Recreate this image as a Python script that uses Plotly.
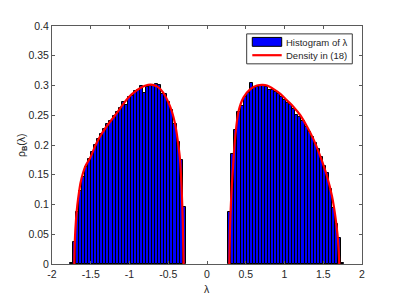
import plotly.graph_objects as go

# ---- data ----
bin_width = 0.03933
left_start = -1.77
right_start = 0.2752

hist_left = [0.002, 0.037, 0.087, 0.123, 0.147, 0.163, 0.176, 0.189, 0.200, 0.210,
             0.219, 0.227, 0.236, 0.241, 0.248, 0.255, 0.262, 0.273, 0.268, 0.280,
             0.283, 0.290, 0.293, 0.300, 0.288, 0.298, 0.300, 0.299, 0.302, 0.301,
             0.286, 0.285, 0.272, 0.258, 0.235, 0.205, 0.175, 0.095]

hist_right = [0.088, 0.185, 0.226, 0.255, 0.265, 0.281, 0.288, 0.304, 0.296, 0.297,
              0.299, 0.300, 0.297, 0.293, 0.292, 0.289, 0.285, 0.281, 0.276, 0.271,
              0.267, 0.260, 0.251, 0.247, 0.240, 0.231, 0.222, 0.213, 0.203, 0.194,
              0.180, 0.164, 0.153, 0.126, 0.094, 0.068, 0.043, 0.002]

dens_left_x = [-1.712, -1.705, -1.690, -1.674, -1.650, -1.631, -1.600, -1.566, -1.502, -1.437,
               -1.373, -1.308, -1.222, -1.150, -1.080, -0.973, -0.844, -0.760, -0.700, -0.640,
               -0.570, -0.499, -0.450, -0.413, -0.380, -0.348, -0.327, -0.312, -0.302]
dens_left_y = [0.0, 0.040, 0.075, 0.098, 0.122, 0.137, 0.153, 0.165, 0.180, 0.200,
               0.216, 0.229, 0.244, 0.256, 0.269, 0.285, 0.297, 0.301, 0.301, 0.298,
               0.289, 0.272, 0.255, 0.236, 0.210, 0.176, 0.125, 0.070, 0.0]

dens_right_x = [0.288, 0.298, 0.310, 0.322, 0.343, 0.365, 0.408, 0.472, 0.559, 0.645,
                0.720, 0.774, 0.860, 0.946, 1.032, 1.117, 1.204, 1.290, 1.376, 1.462,
                1.548, 1.613, 1.655, 1.685, 1.700, 1.707]
dens_right_y = [0.0, 0.065, 0.105, 0.135, 0.178, 0.215, 0.257, 0.280, 0.294, 0.300,
                0.301, 0.300, 0.294, 0.286, 0.275, 0.264, 0.250, 0.231, 0.209, 0.181,
                0.148, 0.114, 0.081, 0.048, 0.020, 0.0]

x_ticks = [-2, -1.5, -1, -0.5, 0, 0.5, 1, 1.5, 2]
x_tick_labels = ["-2", "-1.5", "-1", "-0.5", "0", "0.5", "1", "1.5", "2"]
y_ticks = [0, 0.05, 0.1, 0.15, 0.2, 0.25, 0.3, 0.35, 0.4]
y_tick_labels = ["0", "0.05", "0.1", "0.15", "0.2", "0.25", "0.3", "0.35", "0.4"]

legend_labels = ["Histogram of λ", "Density in (18)"]

# ---- figure ----
left_centers = [left_start + (i + 0.5) * bin_width for i in range(len(hist_left))]
right_centers = [right_start + (i + 0.5) * bin_width for i in range(len(hist_right))]

fig = go.Figure()
bar_style = dict(marker=dict(color="#0000FF", line=dict(color="#000000", width=1)),
                 width=bin_width, showlegend=False, hoverinfo="skip")
fig.add_trace(go.Bar(x=left_centers, y=hist_left, **bar_style))
fig.add_trace(go.Bar(x=right_centers, y=hist_right, **bar_style))

line_style = dict(mode="lines", line=dict(color="#FF0000", width=2.2, shape="spline", smoothing=0.8),
                  showlegend=False, hoverinfo="skip")
fig.add_trace(go.Scatter(x=dens_left_x, y=dens_left_y, **line_style))
fig.add_trace(go.Scatter(x=dens_right_x, y=dens_right_y, **line_style))

axis_common = dict(showgrid=False, zeroline=False, showline=True, linecolor="#5a5a5a",
                   linewidth=1, mirror="ticks", ticks="inside", ticklen=3,
                   tickcolor="#5a5a5a", tickfont=dict(size=10.5, color="#262626"))

# page body adds an 8px offset, so the figure is 8px smaller and margins shifted
fig.update_layout(
    width=391, height=291,
    margin=dict(l=44, r=37, t=15, b=35),
    paper_bgcolor="white", plot_bgcolor="white",
    font=dict(family="Liberation Sans, Arial, sans-serif", color="#262626"),
    bargap=0, barmode="overlay",
    xaxis=dict(range=[-2, 2], tickvals=x_ticks, ticktext=x_tick_labels, **axis_common),
    yaxis=dict(range=[0, 0.4], tickvals=y_ticks, ticktext=y_tick_labels, **axis_common),
)

# legend drawn as MATLAB-style box
fig.add_shape(type="rect", xref="paper", yref="paper", x0=0.628, x1=0.9687, y0=0.841, y1=0.9669,
              line=dict(color="#3a3a3a", width=1), fillcolor="white", layer="above")
fig.add_shape(type="rect", xref="paper", yref="paper", x0=0.6461, x1=0.741, y0=0.9146, y1=0.952,
              line=dict(color="#000000", width=1), fillcolor="#0000FF", layer="above")
fig.add_shape(type="line", xref="paper", yref="paper", x0=0.6461, x1=0.741, y0=0.8773, y1=0.8773,
              line=dict(color="#FF0000", width=2.2), layer="above")
fig.add_annotation(xref="paper", yref="paper", x=0.749, y=0.9325, text=legend_labels[0],
                   showarrow=False, xanchor="left", yanchor="middle",
                   font=dict(size=9.5, color="#262626"))
fig.add_annotation(xref="paper", yref="paper", x=0.749, y=0.8765, text=legend_labels[1],
                   showarrow=False, xanchor="left", yanchor="middle",
                   font=dict(size=9.5, color="#262626"))

# axis titles
fig.add_annotation(xref="paper", yref="paper", x=0.5, y=-0.105, text="λ",
                   showarrow=False, xanchor="center", yanchor="middle",
                   font=dict(size=10.5, color="#262626"))
fig.add_annotation(xref="paper", yref="paper", x=-0.097, y=0.5, text="ρ<sub><b>B</b></sub>(λ)",
                   textangle=-90, showarrow=False, xanchor="center", yanchor="middle",
                   font=dict(size=10.5, color="#262626"))

fig.write_html("out.html")
